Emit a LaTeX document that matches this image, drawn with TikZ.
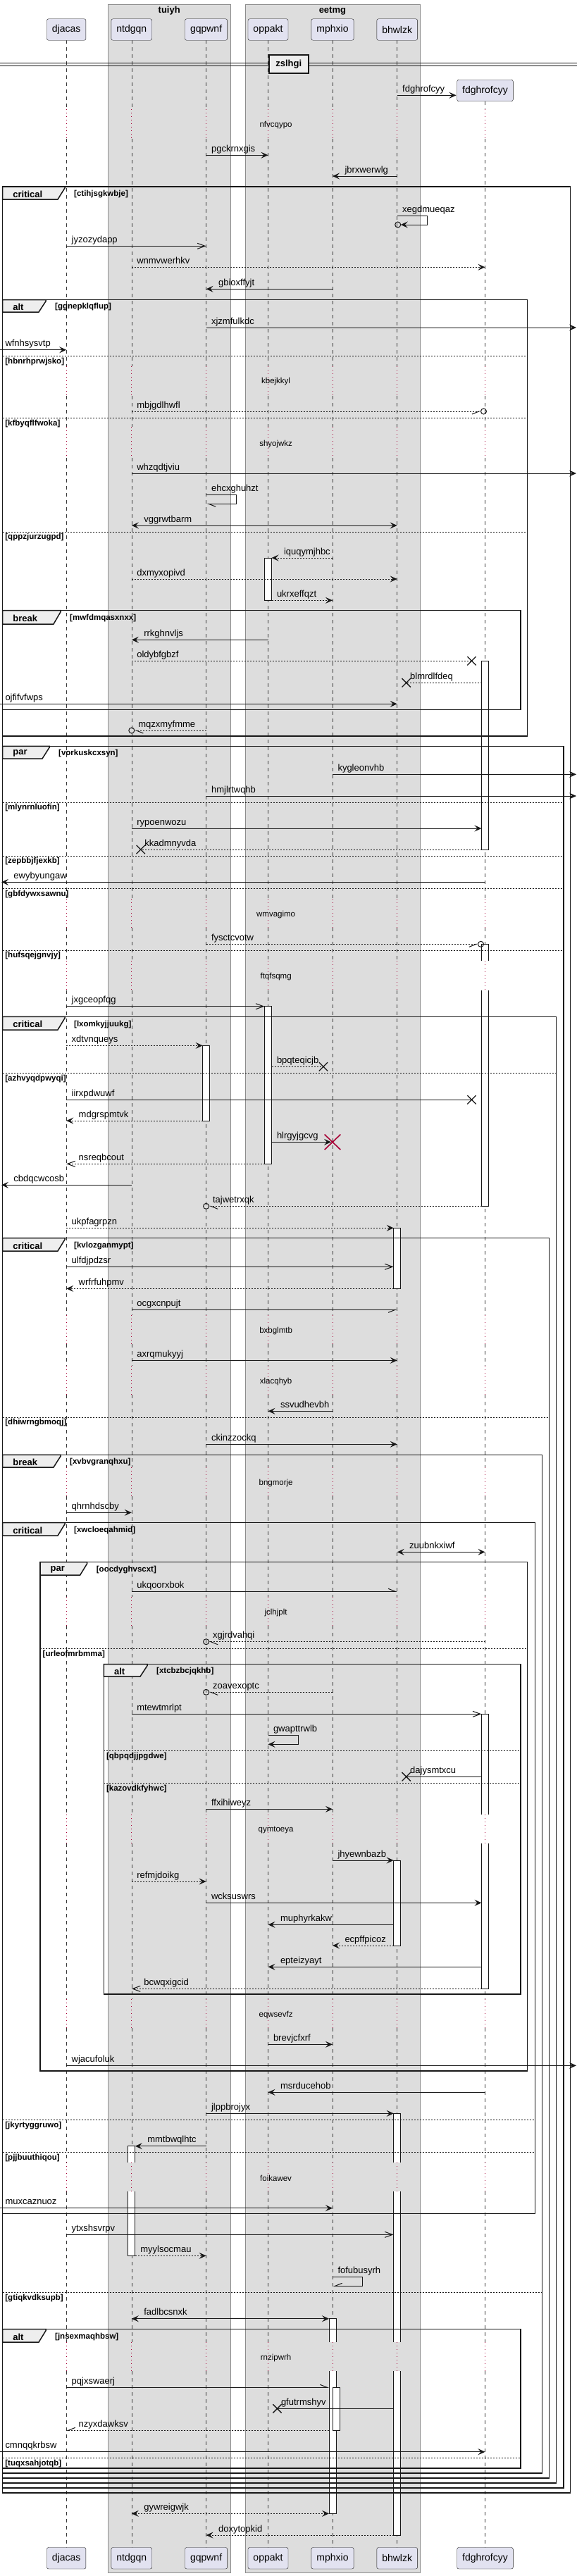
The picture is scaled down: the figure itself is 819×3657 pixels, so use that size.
\documentclass[tikz,border=0pt]{standalone}
\usepackage{fontspec}
\setmainfont{Liberation Sans}
\usepackage{tikz}
\usetikzlibrary{arrows.meta, calc, shapes.misc}
\definecolor{partFill}{HTML}{E2E2F0}
\definecolor{lineCol}{HTML}{181818}
\definecolor{boxFill}{HTML}{DDDDDD}
\definecolor{tabFill}{HTML}{EEEEEE}
\definecolor{delayCol}{HTML}{A80036}
\newcommand{\msgFont}{\fontsize{13}{15}\selectfont}
\newcommand{\noteFont}{\fontsize{11.5}{13}\selectfont}
\newcommand{\guardFont}{\fontsize{11.5}{13}\selectfont\bfseries}
\newcommand{\headFont}{\fontsize{13}{15}\selectfont\bfseries}
\tikzstyle{participant}=[draw=lineCol, fill=partFill, rounded corners=2.5pt, minimum height=30.5pt, inner xsep=7.5pt, font=\fontsize{14}{16}\selectfont]
\tikzstyle{boxBg}=[draw=black!45, fill=boxFill, line width=0.6pt]
\tikzstyle{boxTitle}=[font=\headFont, inner sep=0pt]
\tikzstyle{lifeline}=[draw=lineCol!85, line width=0.6pt, dash pattern=on 5pt off 5pt]
\tikzstyle{delayLine}=[draw=delayCol, line width=0.8pt, dash pattern=on 1pt off 4pt]
\tikzstyle{delayText}=[font=\noteFont, inner sep=0pt]
\tikzstyle{actbox}=[draw=lineCol, fill=white, line width=0.8pt]
\tikzstyle{frameLine}=[draw=lineCol, line width=1.5pt]
\tikzstyle{frameTab}=[draw=lineCol, fill=tabFill, line width=1.5pt]
\tikzstyle{frameHead}=[anchor=west, inner sep=0pt, font=\headFont]
\tikzstyle{guard}=[anchor=west, inner sep=0pt, font=\guardFont]
\tikzstyle{elseLine}=[draw=lineCol, line width=1pt, dash pattern=on 2pt off 2pt]
\tikzstyle{divider}=[draw=lineCol, fill=tabFill, line width=1.5pt, minimum width=56pt, minimum height=26pt, font=\headFont]
\tikzstyle{link}=[draw=lineCol, line width=1pt]
\tikzstyle{ret}=[dash pattern=on 2pt off 2pt]
\tikzstyle{tipFull}=[-{Stealth[length=10pt,width=9pt,inset=4pt]}]
\tikzstyle{tipBoth}=[{Stealth[length=10pt,width=9pt,inset=4pt]}-{Stealth[length=10pt,width=9pt,inset=4pt]}]
\tikzstyle{tipBarb}=[-{Straight Barb[length=11pt,width=8pt]}]
\tikzstyle{tipHalfL}=[-{Straight Barb[harpoon,length=10pt,width=8pt]}]
\tikzstyle{tipHalfR}=[-{Straight Barb[harpoon,swap,length=10pt,width=8pt]}]
\tikzstyle{msgLabel}=[anchor=base west, inner sep=0pt, font=\msgFont]
\tikzstyle{lblR}=[msgLabel, xshift=7pt, yshift=5pt]
\tikzstyle{lblL}=[msgLabel, xshift=17pt, yshift=5pt]
\tikzstyle{lblX}=[msgLabel, xshift=5pt, yshift=5pt]
\tikzstyle{xEnd}=[cross out, draw=lineCol, solid, line width=1.3pt, minimum width=11pt, minimum height=11pt, inner sep=0pt]
\tikzstyle{killMark}=[cross out, draw=delayCol, solid, line width=1.6pt, minimum width=21pt, minimum height=20pt, inner sep=0pt]
\tikzstyle{oEnd}=[circle, draw=lineCol, solid, line width=1pt, minimum size=8pt, inner sep=0pt]
\newcommand\actBox{}
\def\actBox(#1,#2,#3){%
  \draw[actbox] ($(#1)+(-5,#2)$) rectangle ($(#1)+(5,#3)$);
}
\newcommand\actTop{}
\def\actTop(#1,#2,#3){%
  \draw[actbox] ($(#1)+(-5,#3)$) -- ($(#1)+(-5,#2)$) -- ($(#1)+(5,#2)$) -- ($(#1)+(5,#3)$);
}
\newcommand\actBot{}
\def\actBot(#1,#2,#3){%
  \draw[actbox] ($(#1)+(-5,#2)$) -- ($(#1)+(-5,#3)$) -- ($(#1)+(5,#3)$) -- ($(#1)+(5,#2)$);
}
\newcommand\actMid{}
\def\actMid(#1,#2,#3){%
  \fill[white] ($(#1)+(-5,#2)$) rectangle ($(#1)+(5,#3)$);
  \draw[actbox, fill=none] ($(#1)+(-5,#2)$) -- ($(#1)+(-5,#3)$) ($(#1)+(5,#2)$) -- ($(#1)+(5,#3)$);
}
\newcommand\grpFrame{}
\def\grpFrame(#1,#2,#3,#4,#5,#6)#7#8#9{%
  \draw[frameLine] (#1,#3) rectangle (#2,#4);
  \draw[frameTab] (#1,#3) -- (#5,#3) -- (#5,#3+2) -- (#5-10,#6) -- (#1,#6) -- cycle;
  \node[frameHead] (#9-head) at (#1+14.5,{(#3+#6)/2+1.5}) {#7};
  \node[guard] (#9-guard) at (#5+13,{(#3+#6)/2+1.5}) {#8};
}
\newcommand\grpElse{}
\def\grpElse(#1,#2,#3)#4#5{%
  \draw[elseLine] (#1,#3) -- (#2,#3);
  \node[guard] (#5) at (#1+3.5,#3+8) {#4};
}

\begin{document}
\begin{tikzpicture}[x=1pt, y=-1pt]
  \path[use as bounding box, fill=white] (0,0) rectangle (819,3657);
  % boxes of participants
  \draw[boxBg] (153.7,6) rectangle (326.8,3652.3);
  \node[boxTitle] (tuiyh) at (240.2,15.5) {tuiyh};
  \draw[boxBg] (347.9,6) rectangle (595.8,3652.3);
  \node[boxTitle] (eetmg) at (471.9,15.5) {eetmg};
  \coordinate (Lft) at (0,0);
  \coordinate (Rgt) at (818,0);
  \coordinate (F) at (688.5,0);
  \coordinate (Mn) at (477,0);
  \foreach \n/\x in {D/94.2, N/186.8, G/292.6, O/380.5, M/472, B/563.7}
    \coordinate (\n) at (\x,0);
  % lifelines
  \foreach \p in {D,N,G,O,M,B}
    \draw[lifeline] ($(\p)+(0,57)$) -- ($(\p)+(0,155)$);
  \draw[lifeline] ($(F)+(0,144)$) -- ($(F)+(0,155)$);
  \foreach \p in {D,N,G,O,M,B,F}{
    \foreach \a/\b in {197/520, 562/606, 650/1276, 1317/1364, 1406/1867, 1908/1939, 1980/2083, 2124/2267, 2308/2576, 2617/2838, 2879/3070, 3111/3325, 3366/3617}
      \draw[lifeline] ($(\p)+(0,\a)$) -- ($(\p)+(0,\b)$);
    \foreach \a/\b in {155/197, 520/562, 606/650, 1276/1317, 1364/1406, 1867/1908, 1939/1980, 2083/2124, 2267/2308, 2576/2617, 2838/2879, 3070/3111, 3325/3366}
      \draw[delayLine] ($(\p)+(0,\a)$) -- ($(\p)+(0,\b)$);
  }
  \foreach \n/\t in {D/djacas, N/ntdgqn, G/gqpwnf, O/oppakt, M/mphxio, B/bhwlzk}{
    \node[participant] (p\n) at ($(\n)+(0,42)$) {\t};
    \node[participant] (p\n b) at ($(\n)+(0,3631.7)$) {\t};
  }
  \node[participant] (pF) at ($(F)+(0,128.5)$) {fdghrofcyy};
  \node[participant] (pFb) at ($(F)+(0,3631.7)$) {fdghrofcyy};
  % divider
  \draw[lineCol, line width=1pt] (0,89.7) -- (819,89.7) (0,93.3) -- (819,93.3);
  \node[divider] (zslhgi) at (409.75,91) {zslhgi};
  % delays
  \foreach \y/\t [count=\i] in {177.7/nfvcqypo, 542/kbejkkyl, 630.7/shyojwkz, 1298.3/wmvagimo, 1386.7/ftqfsqmg, 1889.3/bxbglmtb, 1961.3/xlacqhyb, 2105.3/bngmorje, 2289.3/jclhjplt, 2598.3/qymtoeya, 2860.3/eqwsevfz, 3092.3/foikawev, 3347.3/rnzipwrh}
    \node[delayText] (d\i) at (391.6,\y) {\t};
  % activations
  \actBox(O,792,852.3)
  \actBox(F,938.3,1206)
  \actTop(F,1340.3,1364)
  \actBot(F,1406,1712.3)
  \actBox(O,1428.7,1652.3)
  \actBox(G,1484.3,1591)
  \actBox(B,1743.3,1829.3)
  \actTop(F,2433.3,2576)
  \actBot(F,2617,2823.3)
  \actBox(B,2641,2762)
  \actTop(B,3000.3,3070)
  \actMid(B,3111,3325)
  \actBot(B,3366,3599)
  \actTop(N,3046.7,3070)
  \actBot(N,3111,3202.3)
  \actTop(M,3291.7,3325)
  \actBot(M,3366,3568.3)
  \actBox(Mn,3389.3,3450.3)
  % groups
  \grpFrame(3.7,809.5,265,3539,92,283){critical}{[ctihjsgkwbje]}{f1}
  \grpFrame(3.7,748.4,425.7,1045,65,443){alt}{[ggnepklqflup]}{f2}
  \grpElse(3.7,748.4,505.3){[hbnrhprwjsko]}{f2a}
  \grpElse(3.7,748.4,593.3){[kfbyqflfwoka]}{f2b}
  \grpElse(3.7,748.4,755){[qppzjurzugpd]}{f2c}
  \grpFrame(3.7,739,866.7,1007.3,86,886){break}{[mwfdmqasxnxx]}{f3}
  \grpFrame(3.7,800,1059.3,3532,70,1077){par}{[vorkuskcxsyn]}{f4}
  \grpElse(3.7,800,1139){[mlynrnluofin]}{f4a}
  \grpElse(3.7,800,1215){[zepbbjfjexkb]}{f4b}
  \grpElse(3.7,800,1261.3){[gbfdywxsawnu]}{f4c}
  \grpElse(3.7,800,1349){[hufsqejgnvjy]}{f4d}
  \grpFrame(3.7,789.5,1443.3,3525,92,1462){critical}{[lxomkyjjuukg]}{f5}
  \grpElse(3.7,789.5,1523.3){[azhvyqdpwyqi]}{f5a}
  \grpFrame(3.7,779.5,1757.7,3518,92,1776){critical}{[kvlozganmypt]}{f6}
  \grpElse(3.7,779.5,2012){[dhiwrngbmoqj]}{f6a}
  \grpFrame(3.7,769.5,2065.3,3511,86,2083){break}{[xvbvgranqhxu]}{f7}
  \grpElse(3.7,769.5,3254.3){[gtiqkvdksupb]}{f7a}
  \grpFrame(3.7,759.5,2161.7,3142.7,92,2180){critical}{[xwcloeqahmid]}{f8}
  \grpElse(3.7,759.5,3009.3){[jkyrtyggruwo]}{f8a}
  \grpElse(3.7,759.5,3055.3){[pjjbuuthiqou]}{f8b}
  \grpFrame(57,748.4,2217.7,2940,123.7,2236){par}{[oocdyghvscxt]}{f9}
  \grpElse(57,748.4,2340){[urleofmrbmma]}{f9a}
  \grpFrame(147.4,739,2362.7,2831,209,2380){alt}{[xtcbzbcjqkhb]}{f10}
  \grpElse(147.4,739,2485.3){[qbpqdjjpgdwe]}{f10a}
  \grpElse(147.4,739,2531){[kazovdkfyhwc]}{f10b}
  \grpFrame(3.7,739,3306.7,3504,65,3325){alt}{[jnsexmaqhbsw]}{f11}
  \grpElse(3.7,739,3489.3){[tuqxsahjotqb]}{f11a}
  % messages
  \draw[link,tipFull] ($(B)+(0,135.3)$) node[lblR] (t1) {fdghrofcyy} -- ($(F)+(-41,135.3)$);
  \draw[link,tipFull] ($(G)+(0,220.3)$) node[lblR] (t3) {pgckrnxgis} -- ($(O)+(0,220.3)$);
  \draw[link,tipFull] ($(B)+(0,250)$) -- ($(M)+(0,250)$) node[lblL] (t4) {jbrxwerwlg};
  \draw[link,tipFull] ($(B)+(0,306)$) node[lblR] (t5) {xegdmueqaz} -- ($(B)+(43,306)$) -- ($(B)+(43,319)$) -- ($(B)+(5,319)$);
  \node[oEnd] (c5) at ($(B)+(1,319)$) {};
  \draw[link,tipBarb] ($(D)+(0,349.3)$) node[lblR] (t6) {jyzozydapp} -- ($(G)+(0,349.3)$);
  \draw[link,ret,tipFull] ($(N)+(0,379.3)$) node[lblR] (t7) {wnmvwerhkv} -- ($(F)+(0,379.3)$);
  \draw[link,tipFull] ($(M)+(0,410.3)$) -- ($(G)+(0,410.3)$) node[lblL] (t8) {gbioxffyjt};
  \draw[link,tipFull] ($(G)+(0,465)$) node[lblR] (t9) {xjzmfulkdc} -- ($(Rgt)+(0,465)$);
  \draw[link,tipFull] ($(Lft)+(0,496.7)$) node[lblR] (t10) {wfnhsysvtp} -- ($(D)+(0,496.7)$);
  \draw[link,ret,tipHalfR] ($(N)+(0,584)$) node[lblR] (t12) {mbjgdlhwfl} -- ($(F)+(-6,584)$);
  \node[oEnd] (c12) at ($(F)+(-2,584)$) {};
  \draw[link,tipFull] ($(N)+(0,672)$) node[lblR] (t14) {whzqdtjviu} -- ($(Rgt)+(0,672)$);
  \draw[link,tipHalfL] ($(G)+(0,702.7)$) node[lblR] (t15) {ehcxghuhzt} -- ($(G)+(43,702.7)$) -- ($(G)+(43,715.3)$) -- ($(G)+(1,715.3)$);
  \draw[link,tipBoth] ($(N)+(0,746)$) node[lblL] (t16) {vggrwtbarm} -- ($(B)+(0,746)$);
  \draw[link,ret,tipFull] ($(M)+(0,792)$) -- ($(O)+(5,792)$) node[lblL] (t17) {iquqymjhbc};
  \draw[link,ret,tipFull] ($(N)+(0,822)$) node[lblR] (t18) {dxmyxopivd} -- ($(B)+(0,822)$);
  \draw[link,ret,tipFull] ($(O)+(5,852.3)$) node[lblR] (t19) {ukrxeffqzt} -- ($(M)+(0,852.3)$);
  \draw[link,tipFull] ($(O)+(0,908.3)$) -- ($(N)+(0,908.3)$) node[lblL] (t20) {rrkghnvljs};
  \draw[link,ret] ($(N)+(0,938.3)$) node[lblR] (t21) {oldybfgbzf} -- ($(F)+(-19,938.3)$);
  \node[xEnd] (x21) at ($(F)+(-19,938.3)$) {};
  \draw[link,ret] ($(F)+(-5,969.3)$) -- ($(B)+(13,969.3)$) node[lblX] (t22) {blmrdlfdeq};
  \node[xEnd] (x22) at ($(B)+(13,969.3)$) {};
  \draw[link,tipFull] ($(Lft)+(0,999.3)$) node[lblR] (t23) {ojfifvfwps} -- ($(B)+(0,999.3)$);
  \draw[link,ret,tipHalfL] ($(G)+(0,1037)$) -- ($(N)+(4,1037)$) node[lblX] (t24) {mqzxmyfmme};
  \node[oEnd] (c24) at ($(N)+(0,1037)$) {};
  \draw[link,tipFull] ($(M)+(0,1099.3)$) node[lblR] (t25) {kygleonvhb} -- ($(Rgt)+(0,1099.3)$);
  \draw[link,tipFull] ($(G)+(0,1130)$) node[lblR] (t26) {hmjlrtwqhb} -- ($(Rgt)+(0,1130)$);
  \draw[link,tipFull] ($(N)+(0,1176)$) node[lblR] (t27) {rypoenwozu} -- ($(F)+(-5,1176)$);
  \draw[link,ret] ($(F)+(-5,1206)$) -- ($(N)+(13,1206)$) node[lblX] (t28) {kkadmnyvda};
  \node[xEnd] (x28) at ($(N)+(13,1206)$) {};
  \draw[link,tipFull] ($(F)+(0,1252.3)$) -- ($(Lft)+(2,1252.3)$) node[lblL] (t29) {ewybyungaw};
  \draw[link,ret,tipHalfR] ($(G)+(0,1340.3)$) node[lblR] (t31) {fysctcvotw} -- ($(F)+(-10,1340.3)$);
  \node[oEnd] (c31) at ($(F)+(-6,1340.3)$) {};
  \draw[link,tipBarb] ($(D)+(0,1428.7)$) node[lblR] (t33) {jxgceopfqg} -- ($(O)+(-5,1428.7)$);
  \draw[link,ret,tipFull] ($(D)+(0,1484.3)$) node[lblR] (t34) {xdtvnqueys} -- ($(G)+(-5,1484.3)$);
  \draw[link,ret] ($(O)+(5,1514.3)$) node[lblR] (t35) {bpqteqicjb} -- ($(M)+(-13,1514.3)$);
  \node[xEnd] (x35) at ($(M)+(-13,1514.3)$) {};
  \draw[link] ($(D)+(0,1561.3)$) node[lblR] (t36) {iirxpdwuwf} -- ($(F)+(-19,1561.3)$);
  \node[xEnd] (x36) at ($(F)+(-19,1561.3)$) {};
  \draw[link,ret,tipFull] ($(G)+(-5,1591)$) -- ($(D)+(0,1591)$) node[lblL] (t37) {mdgrspmtvk};
  \draw[link,tipFull] ($(O)+(5,1621.3)$) node[lblR] (t38) {hlrgyjgcvg} -- ($(M)+(-2,1621.3)$);
  \node[killMark] (k38) at ($(M)+(0,1621.3)$) {};
  \draw[link,ret,tipBarb] ($(O)+(-5,1652.3)$) -- ($(D)+(0,1652.3)$) node[lblL] (t39) {nsreqbcout};
  \draw[link,tipFull] ($(N)+(0,1682.3)$) -- ($(Lft)+(2,1682.3)$) node[lblL] (t40) {cbdqcwcosb};
  \draw[link,ret,tipHalfL] ($(F)+(-5,1712.3)$) -- ($(G)+(4,1712.3)$) node[lblX] (t41) {tajwetrxqk};
  \node[oEnd] (c41) at ($(G)+(0,1712.3)$) {};
  \draw[link,ret,tipFull] ($(D)+(0,1743.3)$) node[lblR] (t42) {ukpfagrpzn} -- ($(B)+(-5,1743.3)$);
  \draw[link,tipBarb] ($(D)+(0,1798.3)$) node[lblR] (t43) {ulfdjpdzsr} -- ($(B)+(-5,1798.3)$);
  \draw[link,ret,tipFull] ($(B)+(-5,1829.3)$) -- ($(D)+(0,1829.3)$) node[lblL] (t44) {wrfrfuhpmv};
  \draw[link,tipHalfR] ($(N)+(0,1859.3)$) node[lblR] (t45) {ocgxcnpujt} -- ($(B)+(0,1859.3)$);
  \draw[link,tipFull] ($(N)+(0,1931.3)$) node[lblR] (t47) {axrqmukyyj} -- ($(B)+(0,1931.3)$);
  \draw[link,tipFull] ($(M)+(0,2003.3)$) -- ($(O)+(0,2003.3)$) node[lblL] (t49) {ssvudhevbh};
  \draw[link,tipFull] ($(G)+(0,2050.3)$) node[lblR] (t50) {ckinzzockq} -- ($(B)+(0,2050.3)$);
  \draw[link,tipFull] ($(D)+(0,2147.3)$) node[lblR] (t52) {qhrnhdscby} -- ($(N)+(0,2147.3)$);
  \draw[link,tipBoth] ($(B)+(0,2203.3)$) node[lblL] (t53) {zuubnkxiwf} -- ($(F)+(0,2203.3)$);
  \draw[link,tipHalfL] ($(N)+(0,2259.3)$) node[lblR] (t54) {ukqoorxbok} -- ($(B)+(0,2259.3)$);
  \draw[link,ret,tipHalfL] ($(F)+(0,2330.7)$) -- ($(G)+(4,2330.7)$) node[lblX] (t56) {xgjrdvahqi};
  \node[oEnd] (c56) at ($(G)+(0,2330.7)$) {};
  \draw[link,ret,tipHalfL] ($(M)+(0,2402.3)$) -- ($(G)+(4,2402.3)$) node[lblX] (t57) {zoavexoptc};
  \node[oEnd] (c57) at ($(G)+(0,2402.3)$) {};
  \draw[link,tipBarb] ($(N)+(0,2433.3)$) node[lblR] (t58) {mtewtmrlpt} -- ($(F)+(-5,2433.3)$);
  \draw[link,tipFull] ($(O)+(0,2463.3)$) node[lblR] (t59) {gwapttrwlb} -- ($(O)+(43,2463.3)$) -- ($(O)+(43,2476.3)$) -- ($(O)+(0,2476.3)$);
  \draw[link] ($(F)+(-5,2522.3)$) -- ($(B)+(13,2522.3)$) node[lblX] (t60) {dajysmtxcu};
  \node[xEnd] (x60) at ($(B)+(13,2522.3)$) {};
  \draw[link,tipFull] ($(G)+(0,2568.3)$) node[lblR] (t61) {ffxihiweyz} -- ($(M)+(0,2568.3)$);
  \draw[link,tipFull] ($(M)+(0,2641)$) node[lblR] (t63) {jhyewnbazb} -- ($(B)+(-5,2641)$);
  \draw[link,ret,tipFull] ($(N)+(0,2671)$) node[lblR] (t64) {refmjdoikg} -- ($(G)+(0,2671)$);
  \draw[link,tipFull] ($(G)+(0,2701.3)$) node[lblR] (t65) {wcksuswrs} -- ($(F)+(-5,2701.3)$);
  \draw[link,tipFull] ($(B)+(-5,2732.3)$) -- ($(O)+(0,2732.3)$) node[lblL] (t66) {muphyrkakw};
  \draw[link,ret,tipFull] ($(B)+(-5,2762)$) -- ($(M)+(0,2762)$) node[lblL] (t67) {ecpffpicoz};
  \draw[link,tipFull] ($(F)+(-5,2792.3)$) -- ($(O)+(0,2792.3)$) node[lblL] (t68) {epteizyayt};
  \draw[link,ret,tipBarb] ($(F)+(-5,2823.3)$) -- ($(N)+(0,2823.3)$) node[lblL] (t69) {bcwqxigcid};
  \draw[link,tipFull] ($(O)+(0,2902.3)$) node[lblR] (t71) {brevjcfxrf} -- ($(M)+(0,2902.3)$);
  \draw[link,tipFull] ($(D)+(0,2932.3)$) node[lblR] (t72) {wjacufoluk} -- ($(Rgt)+(0,2932.3)$);
  \draw[link,tipFull] ($(F)+(0,2970.3)$) -- ($(O)+(0,2970.3)$) node[lblL] (t73) {msrducehob};
  \draw[link,tipFull] ($(G)+(0,3000.3)$) node[lblR] (t74) {jlppbrojyx} -- ($(B)+(-5,3000.3)$);
  \draw[link,tipFull] ($(G)+(0,3046.7)$) -- ($(N)+(5,3046.7)$) node[lblL] (t75) {mmtbwqlhtc};
  \draw[link,tipFull] ($(Lft)+(0,3134.7)$) node[lblR] (t77) {muxcaznuoz} -- ($(M)+(0,3134.7)$);
  \draw[link,tipBarb] ($(D)+(0,3172.3)$) node[lblR] (t78) {ytxshsvrpv} -- ($(B)+(-5,3172.3)$);
  \draw[link,ret,tipFull] ($(N)+(5,3202.3)$) node[lblR] (t79) {myylsocmau} -- ($(G)+(0,3202.3)$);
  \draw[link,tipHalfR] ($(M)+(0,3232.7)$) node[lblR] (t80) {fofubusyrh} -- ($(M)+(42,3232.7)$) -- ($(M)+(42,3245.3)$) -- ($(M)+(1,3245.3)$);
  \draw[link,tipBoth] ($(N)+(0,3291.7)$) node[lblL] (t81) {fadlbcsnxk} -- ($(M)+(-5,3291.7)$);
  \draw[link,tipHalfL] ($(D)+(0,3389.3)$) node[lblR] (t83) {pqjxswaerj} -- ($(M)+(-5,3389.3)$);
  \draw[link] ($(B)+(-5,3419.3)$) -- ($(O)+(13,3419.3)$) node[lblX] (t84) {gfutrmshyv};
  \node[xEnd] (x84) at ($(O)+(13,3419.3)$) {};
  \draw[link,ret,tipHalfR] ($(M)+(-5,3450.3)$) -- ($(D)+(0,3450.3)$) node[lblL] (t85) {nzyxdawksv};
  \draw[link,tipFull] ($(Lft)+(0,3480.7)$) node[lblR] (t86) {cmnqqkrbsw} -- ($(F)+(0,3480.7)$);
  \draw[link,ret,tipBoth] ($(N)+(0,3568.3)$) node[lblL] (t87) {gywreigwjk} -- ($(M)+(-5,3568.3)$);
  \draw[link,ret,tipFull] ($(B)+(-5,3599)$) -- ($(G)+(0,3599)$) node[lblL] (t88) {doxytopkid};
\end{tikzpicture}
\end{document}
